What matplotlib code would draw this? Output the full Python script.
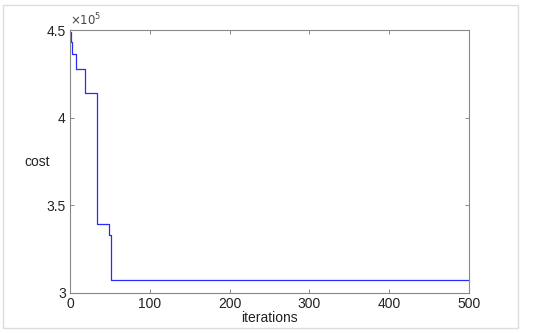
import matplotlib
matplotlib.use("Agg")
import matplotlib.pyplot as plt
from matplotlib.patches import Rectangle

# step change points (iteration) and cost values
iters = [0, 1, 2, 8, 19, 34, 49, 52, 500]
cost = [4.49e5, 4.43e5, 4.363e5, 4.277e5, 4.14e5, 3.396e5, 3.333e5, 3.076e5, 3.076e5]

plt.rcParams['font.family'] = ['Liberation Sans', 'DejaVu Sans']
fig = plt.figure(figsize=(5.5, 3.33), dpi=100)
fig.patches.append(Rectangle((3/550, 5/333), 515/550, 323/333, transform=fig.transFigure,
                             fill=False, edgecolor='#dddddd', linewidth=1))
ax = fig.add_axes([70/550, 1 - 293/333, 399/550, 263/333])
ax.plot(iters, cost, drawstyle='steps-post', color='#2a2aff', linewidth=0.9)
ax.set_xlim(0, 500)
ax.set_ylim(3.0e5, 4.5e5)
ax.set_xticks([0, 100, 200, 300, 400, 500])
ax.set_yticks([3.0e5, 3.5e5, 4.0e5, 4.5e5])
ax.set_yticklabels(['3', '3.5', '4', '4.5'])
ax.tick_params(direction='in', top=True, right=True, length=3, width=0.6,
               labelsize=10, colors='#777777', labelcolor='#222222', pad=3)
for s in ax.spines.values():
    s.set_color('#888888')
    s.set_linewidth(0.8)
ax.set_xlabel('iterations', fontsize=10, color='#222222', labelpad=0)
ax.set_ylabel('cost', fontsize=10, color='#222222', rotation=0, va='center', ha='right')
ax.yaxis.set_label_coords(-0.05, 0.5)
ax.text(0.0, 1.005, r'$\times10^5$', transform=ax.transAxes, fontsize=8.5,
        color='#444444', ha='left', va='bottom', family='DejaVu Sans')
fig.savefig('out.png', dpi=100)
